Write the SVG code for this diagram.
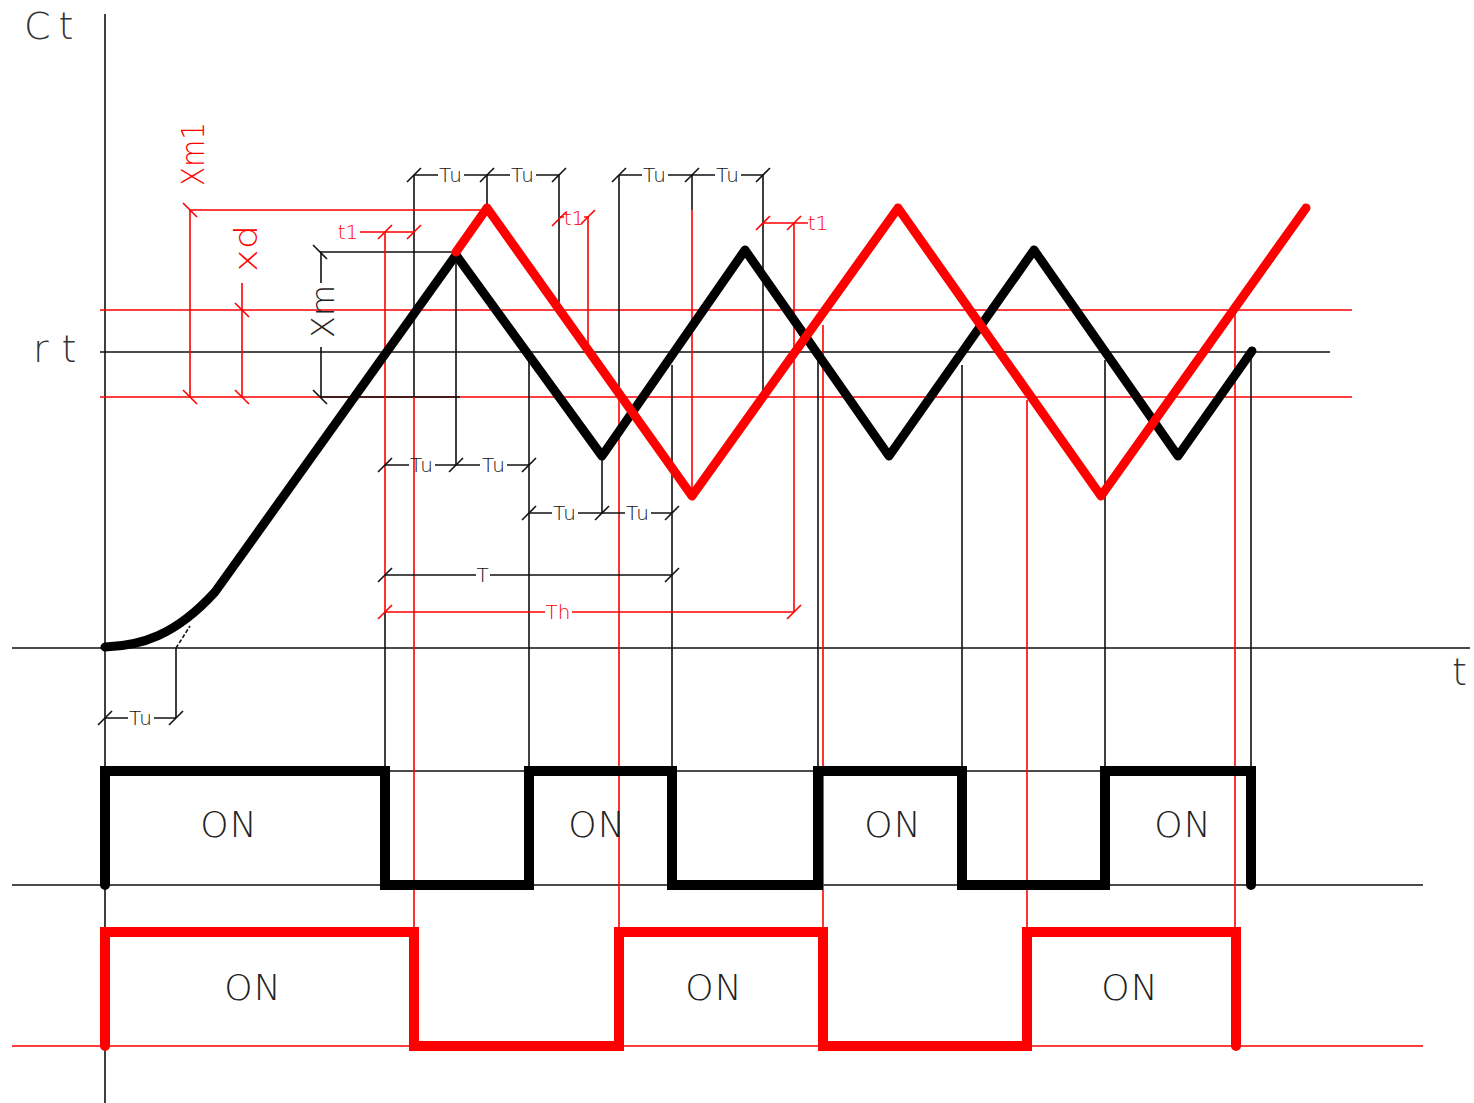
<svg xmlns="http://www.w3.org/2000/svg" width="1474" height="1103" viewBox="0 0 1474 1103">
<style>
.k{stroke:#111;stroke-width:1.6;fill:none}
.r{stroke:#f00;stroke-width:1.6;fill:none}
.K{stroke:#000;stroke-width:9;fill:none;stroke-linejoin:round;stroke-linecap:round}
.R{stroke:#f00;stroke-width:9;fill:none;stroke-linejoin:round;stroke-linecap:round}
.S{stroke-linejoin:miter;stroke-width:10}
text{font-family:"DejaVu Sans","Liberation Sans",sans-serif;font-weight:200}
.tk{font-size:20px;fill:#111;text-anchor:middle;letter-spacing:1px}
.tr{font-size:20px;fill:#f00;text-anchor:middle}
.big{font-size:38px;fill:#333}
.on{font-size:36px;fill:#222;text-anchor:middle;letter-spacing:1px}
.v{font-size:32px}
</style>
<defs>
<path id="f" d="M-7 7L7-7"/>
<path id="b" d="M-7-7L7 7"/>
</defs>
<rect width="1474" height="1103" fill="#fff"/>
<g id="connectors">
<g id="axes" class="k">
<path d="M105 14V1103M12 648H1470M100 352H1330M12 885H1423"/>
</g>
<g id="red-levels" class="r">
<path d="M100 310H1352M100 397H1352M12 1046H1423"/>
</g>
<g id="guides-black" class="k">
<path d="M385 612V771M414 175V397M487 175V208M559 175V302M619 175V397M692 175V210M763 175V397M456 252V465M529 355V771M602 456V513M672 365V771M818 358V771M962 365V771M1105 360V771M1251 352V771M105 771V885M176 648V718M388 771H1251M320 252H456M320 397H460M321 252V283M321 347V397"/>
</g>
<g id="guides-red" class="r">
<path d="M385 232V612M414 397V930M588 217V348M619 397V930M692 210V496M794 223V612M823 325V930M1027 400V930M1235 310V930M190 210H487M190 210V397M242 283V397"/>
</g>
<g id="dims-black" class="k">
<path d="M414 175H438M464 175H510M536 175H559M619 175H642M668 175H715M741 175H763M385 465H409M435 465H480M507 465H529M529 513H552M578 513H625M651 513H672M385 575H476M490 575H672M105 718H128M154 718H176"/>
<use href="#f" x="414" y="175"/><use href="#f" x="487" y="175"/><use href="#f" x="559" y="175"/>
<use href="#f" x="619" y="175"/><use href="#f" x="692" y="175"/><use href="#f" x="763" y="175"/>
<use href="#f" x="385" y="465"/><use href="#f" x="456" y="465"/><use href="#f" x="529" y="465"/>
<use href="#f" x="529" y="513"/><use href="#f" x="602" y="513"/><use href="#f" x="672" y="513"/>
<use href="#f" x="385" y="575"/><use href="#f" x="672" y="575"/>
<use href="#f" x="105" y="718"/><use href="#f" x="176" y="718"/>
<path d="M176 648L190 626" stroke-dasharray="4 2"/>
<use href="#b" x="320" y="252"/><use href="#b" x="320" y="397"/>
</g>
<g id="dims-red" class="r">
<path d="M360 232H414M559 217H564M584 217H588M763 223H808M385 612H545M572 612H794"/>
<use href="#f" x="385" y="232"/><use href="#f" x="414" y="232"/>
<use href="#f" x="559" y="219"/><use href="#f" x="588" y="217"/>
<use href="#f" x="763" y="223"/><use href="#f" x="794" y="223"/>
<use href="#f" x="385" y="612"/><use href="#f" x="794" y="612"/>
<use href="#b" x="190" y="210"/><use href="#b" x="190" y="397"/>
<use href="#b" x="242" y="310"/><use href="#b" x="242" y="397"/>
</g>
</g>
<g id="black-curve"><path class="K" d="M105 647C140 646 175 636 215 592L456 255L602 456L745 250L889 456L1034 250L1178 456L1252 351"/></g>
<g id="red-curve"><path class="R" d="M456 252L487 208L692 496L898 208L1101 496L1306 208"/></g>
<g id="black-pulse"><path class="K S" d="M105 885V771H385V885H529V771H672V885H818V771H962V885H1105V771H1251V885"/></g>
<g id="red-pulse"><path class="R S" d="M105 1046V932H414V1046H619V932H823V1046H1027V932H1236V1046"/></g>
<g id="labels">
<text class="big" x="24" y="39" letter-spacing="8">Ct</text>
<text class="big" x="33" y="362" letter-spacing="13">rt</text>
<text class="big" x="1452" y="685" font-size="42">t</text>
<text class="v" x="204" y="186" transform="rotate(-90 204 186)" fill="#f00" textLength="64" lengthAdjust="spacingAndGlyphs">Xm1</text>
<text class="v" x="257" y="272" transform="rotate(-90 257 272)" fill="#f00" textLength="47" lengthAdjust="spacingAndGlyphs">xd</text>
<text class="v" x="334" y="338" transform="rotate(-90 334 338)" fill="#222" textLength="53" lengthAdjust="spacingAndGlyphs">Xm</text>
<text class="tk" x="451" y="182">Tu</text><text class="tk" x="523" y="182">Tu</text>
<text class="tk" x="655" y="182">Tu</text><text class="tk" x="728" y="182">Tu</text>
<text class="tk" x="422" y="472">Tu</text><text class="tk" x="494" y="472">Tu</text>
<text class="tk" x="565" y="520">Tu</text><text class="tk" x="638" y="520">Tu</text>
<text class="tk" x="141" y="725">Tu</text>
<text class="tk" x="483" y="582">T</text>
<text class="tr" x="558" y="619">Th</text>
<text class="tr" x="348" y="239">t1</text>
<text class="tr" x="574" y="225">t1</text>
<text class="tr" x="818" y="230">t1</text>
<text class="on" x="229" y="837">ON</text><text class="on" x="597" y="837">ON</text>
<text class="on" x="893" y="837">ON</text><text class="on" x="1183" y="837">ON</text>
<text class="on" x="253" y="1000">ON</text><text class="on" x="714" y="1000">ON</text>
<text class="on" x="1130" y="1000">ON</text>
</g>
</svg>
